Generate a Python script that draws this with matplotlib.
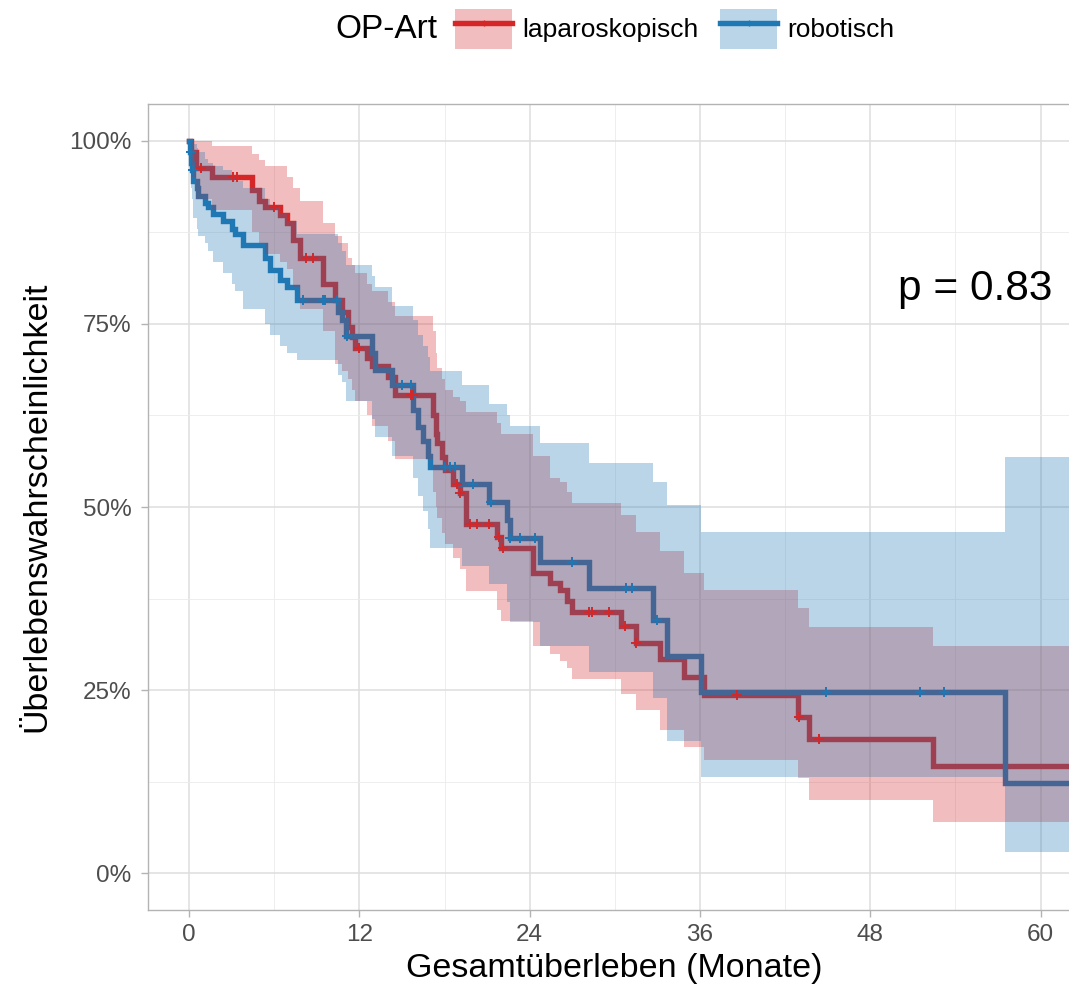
import numpy as np
import matplotlib
matplotlib.use('Agg')
import matplotlib.pyplot as plt
from matplotlib.patches import Patch
from matplotlib.lines import Line2D

plt.rcParams['font.family'] = ['Liberation Sans', 'DejaVu Sans']

# laparoskopisch: time (months), survival (%), CI upper/lower (%)
lap_t = [0, 0.15, 0.45, 1.6, 4.4, 4.9, 5.35, 6.4, 6.9, 7.3, 7.8, 9.4, 10.3, 10.8, 11.2,
         11.5, 11.7, 12.5, 12.9, 14.0, 14.5, 17.2, 17.4, 17.5, 17.8, 18.0, 18.6, 19.1,
         19.5, 21.7, 22.0, 24.2, 25.4, 26.1, 26.6, 27.0, 30.4, 31.5, 33.2, 34.9, 36.3,
         42.9, 43.7, 52.4]
lap_s = [100, 98.5, 96.3, 95.0, 93.2, 91.8, 90.9, 89.8, 88.7, 86.4, 84.0, 80.5, 78.2,
         76.6, 74.5, 73.2, 71.7, 70.4, 69.3, 67.7, 65.3, 62.5, 60.0, 58.8, 56.8, 55.0,
         53.2, 51.9, 47.7, 45.9, 44.4, 41.0, 39.6, 38.7, 37.2, 35.7, 33.7, 31.5, 29.2,
         26.8, 24.3, 21.4, 18.4, 14.7]
lap_hi = [100, 100, 100, 99.3, 98.2, 97.3, 96.6, 96.6, 95, 93.6, 91.8, 88.8, 87, 86, 84,
          83, 82, 80.5, 79.5, 78, 76, 74, 71, 69, 67.5, 66, 65, 64.5, 63, 61.5, 60, 57,
          54, 53.4, 52, 50.5, 48.9, 46.6, 44, 41, 38.7, 36.2, 33.6, 31]
lap_lo = [100, 95, 92, 90.5, 87.5, 86, 84.5, 83.5, 82.5, 80, 77, 74, 69.5, 68.5, 67.5,
          66, 64.5, 62.5, 61, 59, 56.5, 52, 50, 48.5, 46.5, 45, 43, 41.5, 38.5, 36, 34.5,
          31, 30, 29, 28, 26.5, 24.5, 22.3, 19.6, 17.3, 15.5, 13, 10, 7]
lap_cens = [0.8, 3.1, 3.4, 6.0, 8.2, 8.7, 12.0, 15.6, 15.8, 18.9, 19.1, 19.8, 20.3, 21.1,
            21.8, 22.1, 28.2, 28.4, 29.6, 30.7, 31.5, 38.6, 43.0, 44.4]

# robotisch
rob_t = [0, 0.07, 0.15, 0.2, 0.3, 0.55, 0.65, 1.1, 1.3, 1.7, 2.4, 3.0, 3.2, 3.8, 5.35,
         5.7, 6.4, 6.9, 7.6, 10.5, 10.8, 11.05, 12.9, 13.1, 14.3, 15.8, 16.1, 16.5, 16.8,
         17.0, 19.2, 21.1, 22.4, 22.6, 24.7, 28.2, 32.7, 33.7, 36.05, 57.5]
rob_s = [100, 98.5, 97.0, 96.0, 94.5, 93.5, 92.5, 91.5, 91.0, 90.0, 89.1, 88.0, 87.2,
         85.7, 84.0, 82.3, 81.0, 80.0, 78.2, 76.6, 75.5, 73.3, 71.0, 68.7, 66.6, 63.2,
         60.9, 59.0, 57.0, 55.4, 53.2, 50.7, 48.2, 45.8, 42.5, 39.0, 34.6, 29.6, 24.7, 12.4]
rob_hi = [100, 100, 100, 100, 99.5, 99, 98.5, 97.5, 97, 96.5, 96, 95, 94.5, 93.5, 92, 91,
          90, 89, 87.3, 86, 85, 83, 81.5, 80, 77.5, 75.5, 73.5, 72, 70.5, 68.6, 66.6, 64,
          62.5, 61, 58.7, 56, 53.4, 50.3, 46.6, 56.8]
rob_lo = [100, 96, 93.5, 92, 89.5, 88, 87, 86, 85, 83.5, 82, 80.5, 79.5, 77, 75, 73.5, 72,
          71, 70, 68, 67, 64.5, 62, 59.5, 57, 54, 51.5, 49.5, 47, 44.4, 42, 39.5, 37, 34.3,
          31, 27.5, 24, 18, 13.2, 2.9]
rob_cens = [0.1, 0.25, 8.0, 9.4, 9.6, 10.4, 11.1, 15.0, 15.6, 18.0, 18.4, 18.7, 20.0,
            21.3, 22.6, 23.3, 24.4, 27.0, 30.8, 31.2, 33.0, 44.9, 51.5, 53.2]

groups = ['laparoskopisch', 'robotisch']
colors = ['#D62728', '#1F77B4']
x_ticks = [0, 12, 24, 36, 48, 60]
y_ticks = [0, 25, 50, 75, 100]
p_text = 'p = 0.83'
t_end = 63


def ext(t, *vals):
    # extend step series to the right edge
    return [np.append(np.array(t, float), t_end)] + [np.append(np.array(v, float), v[-1]) for v in vals]


def at(t, s, x):
    idx = np.searchsorted(t, x, side='right') - 1
    return np.array(s)[idx]


fig = plt.figure(figsize=(10.69, 9.9), dpi=100)
ax = fig.add_axes([148 / 1069, 80 / 990, 1 - 148 / 1069, 806 / 990])

series = [(lap_t, lap_s, lap_hi, lap_lo, lap_cens), (rob_t, rob_s, rob_hi, rob_lo, rob_cens)]

for (t, s, hi, lo, cens), col in zip(series, colors):
    te, se = ext(t, s)
    ax.step(te, se, where='post', color=col, lw=3.9, zorder=3, solid_joinstyle='miter')

for (t, s, hi, lo, cens), col in zip(series, colors):
    te, hie, loe = ext(t, hi, lo)
    ax.fill_between(te, loe, hie, step='post', color=col, alpha=0.3, lw=0, zorder=4)

for (t, s, hi, lo, cens), col in zip(series, colors):
    ax.plot(cens, at(t, s, cens), ls='none', marker='+', ms=7, mew=1.4, color=col, zorder=5)

ax.text(60.85, 79.7, p_text, ha='right', va='center', fontsize=30.5, color='black', zorder=6)

ax.set_xlim(-2.9, 62.0)
ax.set_ylim(-5, 105)
ax.set_xticks(x_ticks)
ax.set_yticks(y_ticks)
ax.set_yticklabels([f'{v}%' for v in y_ticks])
ax.set_xticks([6, 18, 30, 42, 54], minor=True)
ax.set_yticks([12.5, 37.5, 62.5, 87.5], minor=True)
ax.tick_params(axis='both', which='major', labelsize=17.5, labelcolor='#4D4D4D',
               color='#B3B3B3', length=5, width=1.0)
ax.tick_params(axis='x', which='major', pad=5)
ax.tick_params(axis='y', which='major', pad=7)
ax.tick_params(which='minor', length=0)
ax.grid(which='major', color='#DEDEDE', lw=1.1, zorder=0)
ax.grid(which='minor', color='#EBEBEB', lw=0.6, zorder=0)
ax.set_axisbelow(True)
for side in ['top', 'left', 'bottom']:
    ax.spines[side].set_color('#B3B3B3')
    ax.spines[side].set_linewidth(1.0)
ax.spines['right'].set_visible(False)

ax.set_xlabel('Gesamtüberleben (Monate)', fontsize=24.5)
ax.xaxis.label.set_va('center')
ax.xaxis.set_label_coords(0.506, -0.0725)
ax.set_ylabel('Überlebenswahrscheinlichkeit', fontsize=24.5)
ax.yaxis.label.set_va('center')
ax.yaxis.set_label_coords(-0.1205, 0.5)

# legend on top
fig.text(335 / 1069, 1 - 29 / 990, 'OP-Art', fontsize=24, va='center', ha='left')
handles = [(Patch(facecolor=c, alpha=0.3, lw=0),
            Line2D([], [], color=c, lw=3.9, marker='+', ms=5, mew=1)) for c in colors]
fig.legend(handles, groups, loc='center left', bbox_to_anchor=(455 / 1069, 1 - 29 / 990),
           ncol=2, frameon=False, fontsize=19, handlelength=2.16, handleheight=1.9,
           handletextpad=0.38, columnspacing=0.83, borderpad=0, borderaxespad=0)

fig.savefig('out.png', dpi=100)
